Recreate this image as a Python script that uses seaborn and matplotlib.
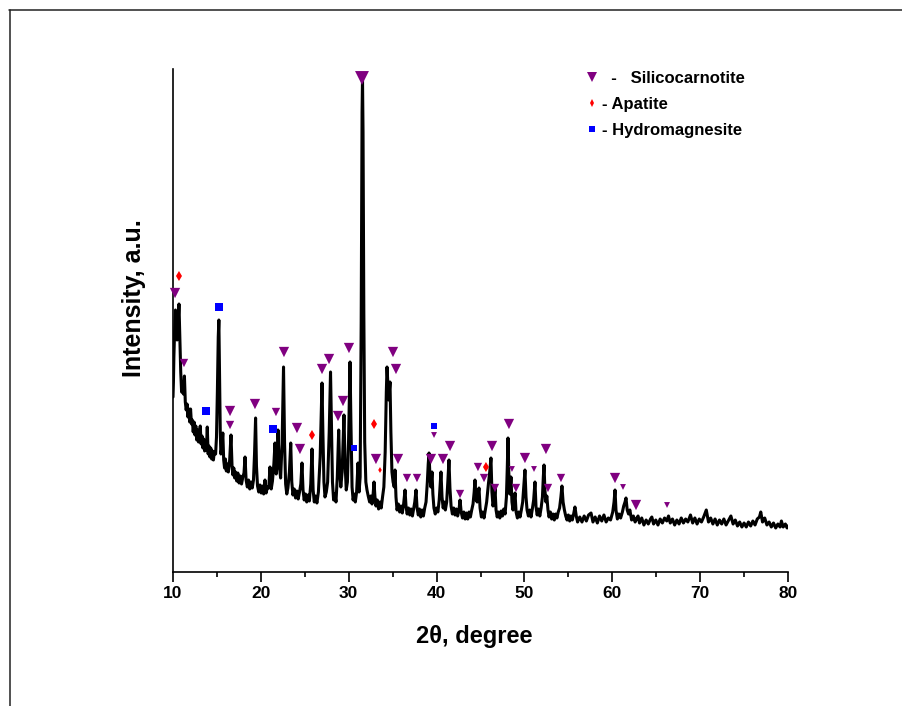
import matplotlib
matplotlib.use("Agg")
import matplotlib.pyplot as plt
from matplotlib.lines import Line2D
import seaborn as sns

# ---------------- data ----------------
two_theta = [
    10.00, 10.05, 10.10, 10.18, 10.28, 10.36, 10.46, 10.56, 10.68, 10.78, 10.88, 10.98, 11.08, 11.18, 11.30, 11.40, 11.50, 11.60, 11.70, 11.80, 11.90, 12.00, 12.10, 12.20, 12.30, 12.40, 12.50, 12.60, 12.70, 12.80, 12.90, 13.00, 13.10, 13.20, 13.30, 13.40, 13.50, 13.60, 13.70, 13.80, 13.90, 14.00, 14.10, 14.20, 14.30, 14.40, 14.50, 14.60, 14.70, 14.85, 14.95, 15.05, 15.15, 15.22, 15.30, 15.38,
    15.45, 15.55, 15.67, 15.77, 15.87, 15.97, 16.07, 16.17, 16.30, 16.45, 16.60, 16.72, 16.82, 16.92, 17.02, 17.12, 17.25, 17.38, 17.52, 17.66, 17.80, 17.95, 18.08, 18.20, 18.32, 18.46, 18.60, 18.74, 18.88, 19.02, 19.16, 19.28, 19.40, 19.50, 19.62, 19.76, 19.90, 20.04, 20.18, 20.32, 20.47, 20.60, 20.75, 20.90, 21.04, 21.18, 21.32, 21.48, 21.61, 21.75, 21.88, 21.95, 22.08, 22.25, 22.42, 22.58, 22.70, 22.82, 22.95,
    23.08, 23.25, 23.40, 23.52, 23.65, 23.80, 23.95, 24.10, 24.25, 24.40, 24.55, 24.68, 24.80, 24.93, 25.08, 25.22, 25.38, 25.52, 25.68, 25.82, 25.95, 26.08, 26.22, 26.38, 26.55, 26.75, 26.88, 26.96, 27.06, 27.18, 27.30, 27.45, 27.60, 27.78, 27.93, 28.03, 28.15, 28.28, 28.42, 28.55, 28.70, 28.86, 28.98, 29.10, 29.25, 29.46, 29.58, 29.72, 29.85, 29.98, 30.08, 30.15, 30.25, 30.38, 30.50, 30.62, 30.75, 30.90, 31.06, 31.18, 31.30, 31.42, 31.52, 31.57, 31.63, 31.72, 31.82, 31.95,
    32.08, 32.22, 32.38, 32.52, 32.65, 32.78, 32.88, 32.98, 33.10, 33.25, 33.40, 33.55, 33.70, 33.85, 34.00, 34.15, 34.28, 34.36, 34.48, 34.55, 34.62, 34.70, 34.80, 34.92, 35.05, 35.18, 35.27, 35.38, 35.50, 35.65, 35.80, 35.95, 36.10, 36.25, 36.41, 36.52, 36.65, 36.80, 36.95, 37.10, 37.25, 37.40, 37.52, 37.66, 37.78, 37.92, 38.05, 38.20, 38.35, 38.50, 38.65, 38.80, 38.95, 39.05, 39.14, 39.25, 39.35, 39.48, 39.58, 39.70, 39.85, 40.00, 40.15, 40.30, 40.50, 40.62, 40.75, 40.88, 41.00, 41.15, 41.28, 41.41, 41.52, 41.65, 41.80, 41.95,
    42.10, 42.25, 42.40, 42.55, 42.67, 42.80, 42.95, 43.10, 43.25, 43.40, 43.55, 43.70, 43.85, 44.00, 44.15, 44.28, 44.37, 44.50, 44.62, 44.73, 44.83, 44.95, 45.10, 45.25, 45.40, 45.55, 45.70, 45.90, 46.05, 46.19, 46.30, 46.42, 46.55, 46.65, 46.77, 46.90, 47.05, 47.20, 47.35, 47.50, 47.65, 47.80, 47.95, 48.05, 48.13, 48.22, 48.32, 48.40, 48.47, 48.58, 48.70, 48.80, 48.93, 49.05, 49.20, 49.35, 49.50, 49.65, 49.80, 49.95, 50.06, 50.18, 50.30, 50.45, 50.60, 50.75, 50.90, 51.05, 51.20, 51.32, 51.45, 51.60, 51.75, 51.90, 52.05, 52.15, 52.23, 52.33, 52.45, 52.55, 52.68, 52.80, 52.95, 53.10, 53.25, 53.40, 53.55, 53.70, 53.85, 54.00, 54.15, 54.27, 54.40, 54.55, 54.70, 54.85, 55.00, 55.15, 55.30, 55.45, 55.60, 55.75, 55.90, 56.05,
    56.30, 56.55, 56.80, 57.05, 57.30, 57.58, 57.80, 58.05, 58.30, 58.55, 58.80, 59.05, 59.30, 59.55, 59.80, 60.05, 60.20, 60.31, 60.42, 60.58, 60.75, 60.95, 61.15, 61.30, 61.45, 61.56, 61.70, 61.85, 62.00, 62.20, 62.40, 62.60, 62.80, 62.93, 63.10, 63.35, 63.60, 63.85, 64.10, 64.35, 64.50, 64.70, 64.95, 65.20, 65.45, 65.70, 65.95, 66.20, 66.40, 66.60, 66.85, 67.10, 67.35, 67.60, 67.85, 68.10, 68.35, 68.60, 68.90, 69.15, 69.40, 69.65, 69.90, 70.15, 70.40, 70.70, 70.95, 71.20, 71.45, 71.70, 71.95, 72.20, 72.45, 72.70, 72.95, 73.20, 73.50, 73.75, 74.00, 74.25, 74.50, 74.75, 75.00, 75.25, 75.50, 75.75, 76.00, 76.25, 76.50, 76.75, 76.90, 77.10, 77.35, 77.60, 77.85, 78.10, 78.35, 78.60, 78.85, 79.10, 79.25, 79.45, 79.70, 79.90, 80.00,
]
intensity = [
    175, 190, 215, 240, 262, 245, 232, 245, 268, 235, 200, 180, 188, 178, 196, 170, 162, 168, 155, 163, 150, 163, 148, 152, 140, 150, 137, 146, 132, 142, 130, 138, 146, 128, 136, 124, 133, 121, 130, 122, 145, 118, 126, 115, 124, 113, 121, 112, 120, 118, 135, 180, 235, 252, 200, 140,
    118, 124, 139, 112, 104, 113, 101, 108, 100, 112, 137, 106, 97, 104, 94, 100, 91, 99, 89, 96, 88, 95, 99, 115, 92, 85, 92, 83, 90, 84, 92, 118, 154, 106, 86, 80, 87, 79, 86, 78, 92, 79, 85, 84, 105, 83, 91, 108, 129, 98, 112, 142, 108, 94, 130, 205, 128, 88, 78,
    84, 100, 129, 90, 77, 83, 74, 81, 73, 80, 88, 109, 82, 72, 78, 70, 77, 71, 88, 123, 82, 70, 76, 69, 80, 115, 160, 189, 140, 90, 75, 80, 90, 140, 200, 150, 90, 72, 78, 70, 95, 142, 100, 85, 100, 157, 110, 82, 90, 130, 180, 210, 150, 85, 72, 78, 70, 80, 109, 80, 95, 250, 460, 494, 440, 260, 130, 90,
    82, 76, 70, 76, 68, 78, 90, 76, 66, 72, 63, 70, 64, 75, 85, 120, 180, 205, 185, 172, 180, 190, 140, 100, 90, 85, 102, 75, 62, 68, 60, 66, 59, 68, 82, 66, 58, 64, 57, 63, 56, 64, 70, 82, 64, 57, 63, 55, 62, 56, 64, 70, 90, 108, 119, 95, 85, 100, 78, 64, 58, 64, 60, 72, 100, 75, 64, 70, 62, 70, 90, 112, 84, 66, 58, 64,
    57, 63, 56, 62, 72, 60, 54, 60, 53, 59, 53, 60, 55, 62, 68, 80, 92, 72, 70, 78, 84, 64, 55, 60, 54, 62, 70, 88, 100, 114, 80, 66, 72, 84, 62, 55, 60, 54, 61, 56, 63, 58, 75, 105, 134, 100, 78, 86, 95, 70, 62, 68, 79, 60, 54, 60, 55, 62, 70, 88, 102, 75, 62, 56, 62, 55, 63, 72, 90, 65, 57, 63, 56, 64, 75, 95, 107, 82, 70, 76, 62, 55, 60, 53, 58, 52, 58, 54, 60, 64, 75, 86, 70, 62, 56, 52, 57, 51, 56, 52, 58, 65, 56, 50,
    55, 50, 56, 51, 57, 59, 50, 55, 49, 56, 51, 57, 50, 54, 52, 60, 70, 82, 62, 53, 58, 54, 60, 66, 70, 74, 62, 58, 62, 52, 56, 50, 54, 56, 49, 54, 47, 52, 48, 53, 55, 48, 52, 47, 53, 49, 54, 51, 56, 49, 53, 47, 52, 48, 54, 49, 53, 50, 57, 49, 54, 48, 53, 50, 55, 62, 50, 54, 48, 53, 47, 52, 48, 53, 47, 51, 56, 48, 52, 46, 50, 45, 49, 45, 50, 46, 51, 47, 53, 55, 60, 50, 54, 47, 50, 45, 49, 44, 48, 45, 51, 45, 48, 44, 46,
]
assert len(two_theta) == len(intensity)

# phase markers (position in 2theta, height in a.u.)
sil_theta = [10.23, 11.25, 16.49, 16.49, 19.33, 21.72, 22.63, 24.11, 24.45, 26.96, 27.76, 28.78, 29.35, 30.03,
             31.51, 33.10, 35.04, 35.38, 35.61, 36.63, 37.77, 39.36, 39.71, 40.73, 41.53, 42.67, 44.71, 45.40,
             46.31, 46.65, 48.24, 48.58, 49.04, 50.06, 51.09, 52.45, 52.68, 54.16, 60.31, 61.22, 62.70, 66.23]
sil_int = [279, 209, 161, 147, 168, 160, 220, 144, 123, 203, 213, 156, 171, 224,
           494, 113, 220, 203, 113, 94, 94, 113, 137, 113, 126, 78, 105, 94,
           126, 84, 148, 103, 84, 114, 103, 123, 84, 94, 94, 85, 67, 67]
apa_theta = [10.68, 25.82, 32.88, 33.56, 45.62]
apa_int = [296, 137, 148, 102, 105]
hyd_theta = [15.24, 13.76, 21.38, 30.60, 39.71]
hyd_int = [265, 161, 143, 124, 146]

x_ticks = [10, 20, 30, 40, 50, 60, 70, 80]
x_minor = [15, 25, 35, 45, 55, 65, 75]
legend_labels = ["  -   Silicocarnotite", "- Apatite", "- Hydromagnesite"]
x_label = "2θ, degree"
y_label = "Intensity, a.u."

# ---------------- style ----------------
sil_cls = ['L', 'M', 'L', 'M', 'L', 'M', 'L', 'L', 'L', 'L', 'L', 'L', 'L', 'L',
           'X', 'L', 'L', 'L', 'L', 'M', 'M', 'L', 'S', 'L', 'L', 'M', 'M', 'M',
           'L', 'M', 'L', 'S', 'M', 'L', 'S', 'L', 'M', 'M', 'L', 'S', 'L', 'S']
apa_cls = ['L', 'L', 'L', 'S', 'L']
hyd_cls = ['L', 'L', 'L', 'S', 'S']
PURPLE, RED, BLUE = '#800080', '#ff0000', '#0000ff'

sns.set_style("ticks")
plt.rcParams['font.family'] = ['Liberation Sans', 'DejaVu Sans']
plt.rcParams['font.weight'] = 'bold'
plt.rcParams['text.color'] = 'black'
plt.rcParams['axes.labelcolor'] = 'black'

W, H = 902, 706
fig = plt.figure(figsize=(W / 100, H / 100), dpi=100)
ax = fig.add_axes([173 / W, (H - 572) / H, 615 / W, 503 / H])

sns.lineplot(x=two_theta, y=intensity, sort=False, estimator=None, color='black',
             linewidth=2.2, ax=ax, zorder=2)

sns.scatterplot(x=sil_theta, y=sil_int, size=sil_cls, sizes={'X': 100, 'L': 55, 'M': 36, 'S': 18},
                marker='v', color=PURPLE, linewidth=0, legend=False, ax=ax, clip_on=False, zorder=3)
sns.scatterplot(x=apa_theta, y=apa_int, size=apa_cls, sizes={'L': 26, 'S': 9},
                marker='d', color=RED, linewidth=0, legend=False, ax=ax, clip_on=False, zorder=3)
sns.scatterplot(x=hyd_theta, y=hyd_int, size=hyd_cls, sizes={'L': 30, 'S': 14},
                marker='s', color=BLUE, linewidth=0, legend=False, ax=ax, clip_on=False, zorder=3)

ax.set_xlim(10, 80)
ax.set_ylim(0, 503)
ax.set_xticks(x_ticks)
ax.set_xticks(x_minor, minor=True)
ax.set_yticks([])
ax.tick_params(axis='x', which='major', bottom=True, direction='out', length=7, width=1.2,
               pad=3, labelsize=12.5, color='black', labelcolor='black')
ax.tick_params(axis='x', which='minor', bottom=True, direction='out', length=3.6, width=1.2, color='black')
for lbl in ax.get_xticklabels():
    lbl.set_fontweight('bold')
for s in ['top', 'right']:
    ax.spines[s].set_visible(False)
for s in ['left', 'bottom']:
    ax.spines[s].set_linewidth(1.2)
    ax.spines[s].set_color('black')

ax.set_xlabel(x_label, fontsize=17, fontweight='bold', color='black')
ax.xaxis.set_label_coords(0.49, -0.105)
ax.set_ylabel(y_label, fontsize=18, fontweight='bold', color='black')
ax.yaxis.set_label_coords(-0.044, 0.545)

handles = [Line2D([], [], ls='none', marker='v', color=PURPLE, ms=7.5, mew=0),
           Line2D([], [], ls='none', marker='d', color=RED, ms=4.2, mew=0),
           Line2D([], [], ls='none', marker='s', color=BLUE, ms=4.3, mew=0)]
ax.legend(handles, legend_labels, loc='upper left', bbox_to_anchor=(585 / W, 1 - 71 / H),
          bbox_transform=fig.transFigure, frameon=False, handlelength=0.8, handletextpad=0.25,
          labelspacing=0.66, borderpad=0, borderaxespad=0,
          prop={'weight': 'bold', 'size': 12})

# outer frame lines (top and left)
fig.add_artist(Line2D([9 / W, 1], [1 - 10 / H, 1 - 10 / H], transform=fig.transFigure, color='#222222', lw=1.1))
fig.add_artist(Line2D([10 / W, 10 / W], [0, 1 - 10 / H], transform=fig.transFigure, color='#222222', lw=1.1))

fig.savefig('out.png', dpi=100)
